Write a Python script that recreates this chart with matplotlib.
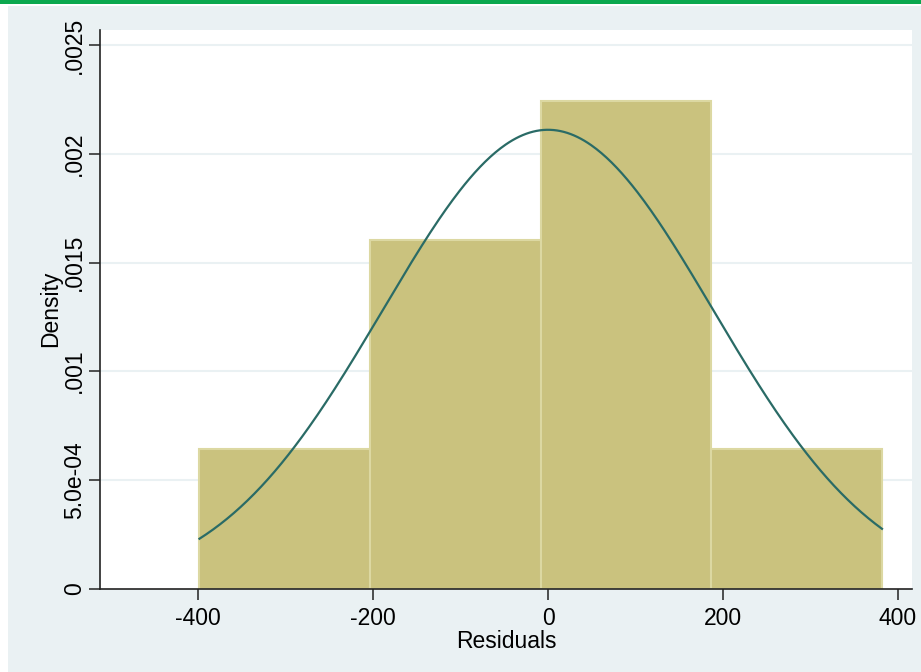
import numpy as np
import matplotlib
matplotlib.use("Agg")
import matplotlib.pyplot as plt
from matplotlib.patches import Rectangle

# Data
bin_edges = [-398.3, -203.3, -8.3, 186.7, 381.7]
densities = [0.000641, 0.001603, 0.002244, 0.000641]
norm_mean = 0.0
norm_sd = 189.0
xticks = [-400, -200, 0, 200, 400]
yticks = [0, 0.0005, 0.001, 0.0015, 0.002, 0.0025]
ytick_labels = ["0", "5.0e-04", ".001", ".0015", ".002", ".0025"]

plt.rcParams['font.family'] = ['Liberation Sans', 'DejaVu Sans']

W, H = 921, 672
fig = plt.figure(figsize=(W / 100, H / 100), dpi=100, facecolor='white')

# outer light panel
fig.patches.append(Rectangle((8 / W, 0), 1 - 8 / W, 1 - 6 / H, transform=fig.transFigure,
                             facecolor='#EAF1F3', edgecolor='none', zorder=-10))
# green top line
fig.patches.append(Rectangle((0, 1 - 4 / H), 1, 4 / H, transform=fig.transFigure,
                             facecolor='#0BA84E', edgecolor='none', zorder=-9))

left, right, top, bottom = 100, 912, 30, 588.5
ax = fig.add_axes([left / W, 1 - bottom / H, (right - left) / W, (bottom - top) / H])
ax.set_zorder(5)
ax.set_facecolor('white')

ax.set_xlim(-512, 416)
ax.set_ylim(0, 0.00257)

for y in yticks[1:]:
    ax.axhline(y, color='#EAF1F3', lw=1.5, zorder=1)

widths = np.diff(bin_edges)
ax.bar(bin_edges[:-1], densities, width=widths, align='edge',
       color='#CAC27E', edgecolor='#DCD8A2', linewidth=1.5, zorder=2)

xs = np.linspace(bin_edges[0], bin_edges[-1], 400)
ys = np.exp(-0.5 * ((xs - norm_mean) / norm_sd) ** 2) / (norm_sd * np.sqrt(2 * np.pi))
ax.plot(xs, ys, color='#2A6B66', lw=1.6, zorder=3)

ax.set_xticks(xticks)
ax.set_xticklabels([str(t) for t in xticks])
ax.set_yticks(yticks)
ax.set_yticklabels(ytick_labels, rotation=90, va='center')

for s in ['top', 'right']:
    ax.spines[s].set_visible(False)
for s in ['left', 'bottom']:
    ax.spines[s].set_color('#222222')
    ax.spines[s].set_linewidth(1.2)

ax.tick_params(axis='both', direction='out', length=8, width=1.1, color='#222222',
               labelsize=16.5)
ax.tick_params(axis='x', pad=5)
ax.tick_params(axis='y', pad=2)
ax.set_xlabel('Residuals', fontsize=16.5, labelpad=0)
ax.set_ylabel('Density', fontsize=16.5, labelpad=1)

fig.savefig('out.png', dpi=100, facecolor='white')
